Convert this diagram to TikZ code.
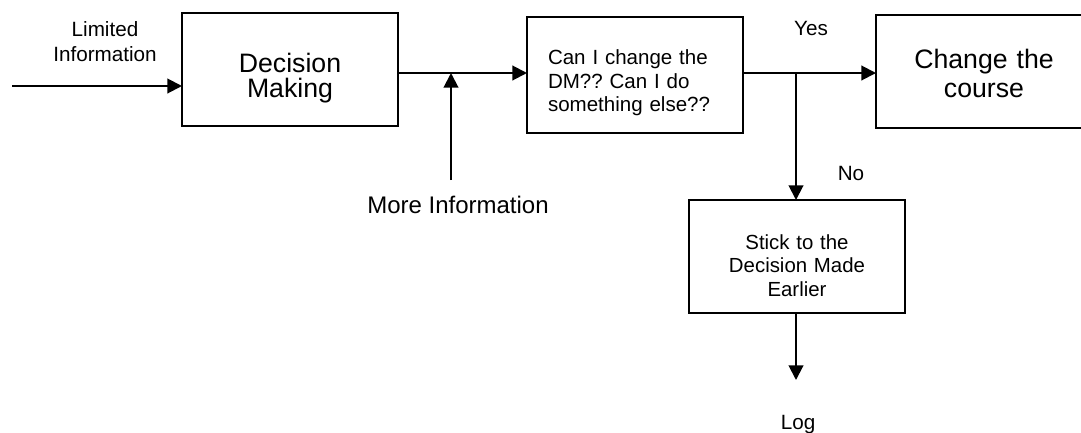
\documentclass[tikz,border=0pt]{standalone}
\usepackage{fontspec}
\setmainfont{Liberation Sans}
\frenchspacing
\usetikzlibrary{arrows.meta}
\begin{document}
\begin{tikzpicture}[x=0.75pt,y=-0.75pt,
  box/.style={draw, line width=1.5pt, inner sep=0pt, outer sep=0pt,
    minimum width=162pt, minimum height=84.75pt, text width=162pt, align=center},
  conn/.style={line width=1.5pt},
  arr/.style={conn, -{Triangle[length=11pt,width=11pt]}},
  lbl/.style={inner sep=0pt, align=center, font=\fontsize{15.5}{18.75}\selectfont}]
\useasboundingbox (0,0) rectangle (1081,432);
\clip (0,0) rectangle (1081,432);

\node[box, font=\fontsize{20}{18.75}\selectfont] (dm) at (290,69.5)
  {\rule{0pt}{28pt}Decision\\Making};
\node[box, minimum height=87pt, text width=130.5pt, inner xsep=15.75pt, align=left,
  font=\fontsize{15.4}{17.8}\selectfont] (can) at (635,75)
  {\rule{0pt}{23pt}Can I change the\\DM?? Can I do\\something else??};
\node[box, font=\fontsize{20}{21.75}\selectfont] (chg) at (984,71.5)
  {\rule{0pt}{17pt}Change the\\course};
\node[box, font=\fontsize{15.3}{17.6}\selectfont] (stick) at (797,256.5)
  {\rule{0pt}{24.5pt}Stick to the\\Decision Made\\Earlier};

\node[lbl] (lim) at (105,42) {Limited\\Information};
\node[lbl, anchor=base, font=\fontsize{18}{20}\selectfont] (more) at (458,213) {More Information};
\node[lbl, anchor=base] (yes) at (811,36) {Yes};
\node[lbl, anchor=base] (no) at (851,180) {No};
\node[lbl, anchor=base] (log) at (798,429) {Log};

\coordinate (in) at (12,86);
\coordinate (j1) at (451,73);
\coordinate (mi) at (451,180);
\coordinate (j2) at (796,73);
\coordinate (out) at (796,380);

\draw[arr] (in) -- (in -| dm.west);
\draw[arr] (dm.east |- j1) -- (can.west |- j1);
\draw[arr] (mi) -- (j1);
\draw[arr] (can.east |- j2) -- (chg.west |- j2);
\draw[arr] (j2) -- (j2 |- stick.north);
\draw[arr] (j2 |- stick.south) -- (out);
\end{tikzpicture}
\end{document}
